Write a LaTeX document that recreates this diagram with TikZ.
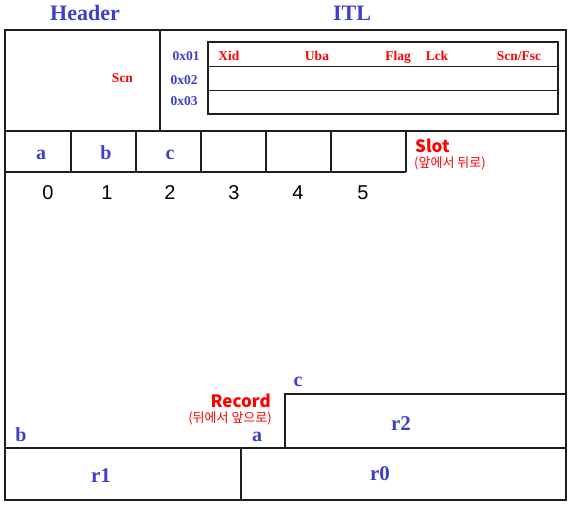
\documentclass[tikz,border=0pt]{standalone}
\usepackage{fontspec}
\setmainfont{Liberation Serif}
\newfontfamily\kr{Noto Sans CJK KR}
\newfontfamily\arialf{Liberation Sans}
\definecolor{tblue}{RGB}{62,62,206}
\definecolor{tred}{RGB}{255,0,0}
\definecolor{tline}{RGB}{30,30,30}
\begin{document}
\begin{tikzpicture}[x=1pt,y=-1pt,
  box/.style={draw=tline,line width=1.6pt},
  ttl/.style={text=tblue,font=\fontsize{22}{24}\selectfont\bfseries,anchor=base,inner sep=0pt},
  hex/.style={text=tblue,font=\fontsize{13.5}{15}\selectfont\bfseries,anchor=base,inner sep=0pt},
  fld/.style={text=tred,font=\fontsize{13.5}{15}\selectfont\bfseries,anchor=base,inner sep=0pt},
  big/.style={text=tblue,font=\fontsize{20}{22}\selectfont\bfseries,anchor=base,inner sep=0pt},
  rec/.style={text=tblue,font=\fontsize{21}{23}\selectfont\bfseries,anchor=base,inner sep=0pt},
  digit/.style={text=black,font=\arialf\fontsize{20}{22}\selectfont,anchor=base,inner sep=0pt},
  krt/.style={text=tred,font=\kr\bfseries\fontsize{17}{19}\selectfont,inner sep=0pt},
  krs/.style={text=tred,font=\kr\fontsize{13}{15}\selectfont,inner sep=0pt}]
\useasboundingbox (0,0) rectangle (571,505);
% outer frame
\draw[box] (5,30) rectangle (566,500);
% header / ITL divider
\draw[box] (160,30) -- (160,131);
% ITL table
\draw[box] (208,42) rectangle (558,114);
\draw[box] (208,66.7) -- (558,66.7);
\draw[box] (208,90.7) -- (558,90.7);
% slot row
\draw[box] (5,131) -- (566,131);
\draw[box] (5,172) -- (406,172);
\foreach \x in {71,136,201,266,331,406} \draw[box] (\x,131) -- (\x,172);
% r2 box
\draw[box] (285,448) -- (285,394) -- (566,394);
% bottom row
\draw[box] (5,448) -- (566,448);
\draw[box] (241,448) -- (241,500);
% titles
\node[ttl] (header) at (85,20.7) {Header};
\node[ttl] (itl) at (352,20.7) {ITL};
% header content
\node[fld] (scn) at (122.5,83) {Scn};
% ITL labels
\node[hex] (h1) at (186,60.7) {0x01};
\node[hex] (h2) at (184,84.5) {0x02};
\node[hex] (h3) at (184,105.5) {0x03};
\node[fld] (xid) at (229,60.7) {Xid};
\node[fld] (uba) at (317,60.7) {Uba};
\node[fld] (flag) at (398,60.7) {Flag};
\node[fld] (lck) at (437,60.7) {Lck};
\node[fld] (scnfsc) at (519,60.7) {Scn/Fsc};
% slot labels
\node[big] (sa) at (41,160) {a};
\node[big] (sb) at (106,160) {b};
\node[big] (sc) at (170,160) {c};
\node[krt,anchor=base west] (slot) at (415,153) {Slot};
\node[krs,anchor=west] (slotsub) at (414,163) {(앞에서 뒤로)};
% digits
\node[digit] (d0) at (48,200) {0};
\node[digit] (d1) at (107,200) {1};
\node[digit] (d2) at (170,200) {2};
\node[digit] (d3) at (234,200) {3};
\node[digit] (d4) at (298,200) {4};
\node[digit] (d5) at (363,200) {5};
% record area
\node[krt,anchor=base east] (record) at (271,407) {Record};
\node[krs,anchor=east] (recsub) at (272,418) {(뒤에서 앞으로)};
\node[big] (rc) at (298,387) {c};
\node[big] (ra) at (257,442) {a};
\node[big] (rb) at (21,441) {b};
\node[rec] (r2) at (401,430) {r2};
\node[rec] (r1) at (101,482.5) {r1};
\node[rec] (r0) at (380,480) {r0};
\end{tikzpicture}
\end{document}
